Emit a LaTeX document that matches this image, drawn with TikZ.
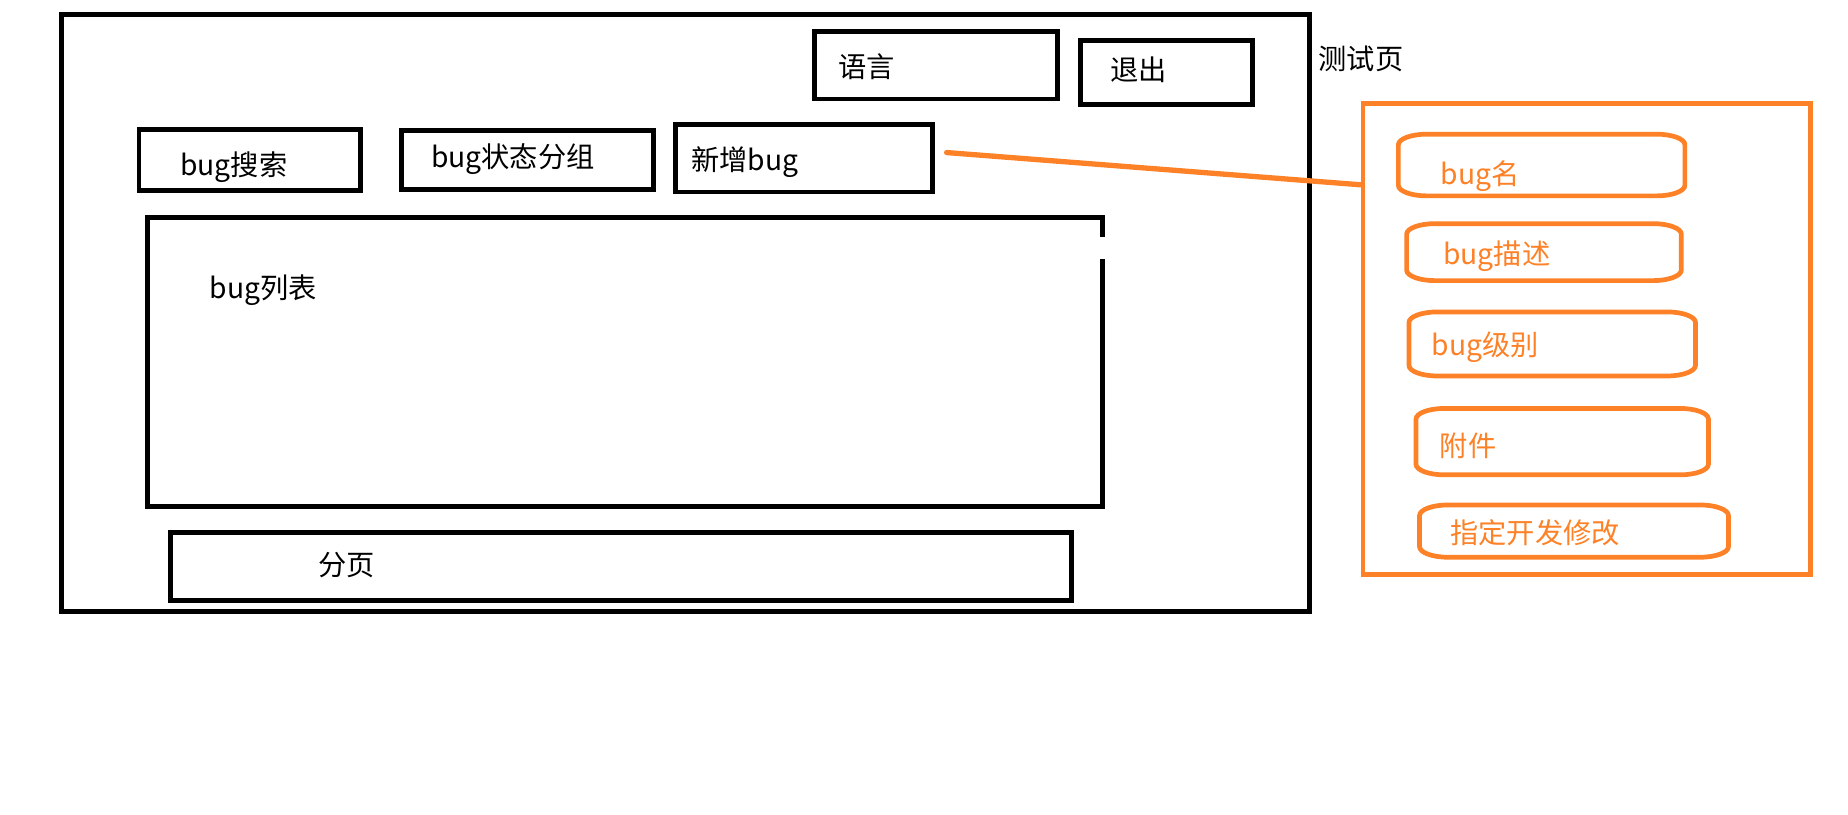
\documentclass[tikz,border=0pt]{standalone}
\usepackage{fontspec}
\newfontfamily\cjk{Noto Sans CJK SC}
\definecolor{org}{RGB}{253,129,39}
\newcommand\pillbox[1]{%
  \draw[org,line width=4pt]
    ([xshift=24pt]#1.north west) -- ([xshift=-24pt]#1.north east)
    .. controls ([xshift=-10.8pt]#1.north east) and ([yshift=-4pt]#1.north east) .. ([yshift=-9pt]#1.north east)
    -- ([yshift=9pt]#1.south east)
    .. controls ([yshift=4pt]#1.south east) and ([xshift=-10.8pt]#1.south east) .. ([xshift=-24pt]#1.south east)
    -- ([xshift=24pt]#1.south west)
    .. controls ([xshift=10.8pt]#1.south west) and ([yshift=4pt]#1.south west) .. ([yshift=9pt]#1.south west)
    -- ([yshift=-9pt]#1.north west)
    .. controls ([yshift=-4pt]#1.north west) and ([xshift=10.8pt]#1.north west) .. cycle;}
\begin{document}
\begin{tikzpicture}[x=1pt,y=-1pt,
  blk/.style={draw=black,line width=4.2pt,inner sep=0pt,anchor=north west},
  obox/.style={draw=org,line width=4pt,inner sep=0pt,anchor=north west},
  rbox/.style={inner sep=0pt,anchor=north west},
  txt/.style={font=\cjk\fontsize{24}{28}\selectfont,inner sep=0pt,anchor=base west,text=black},
  otxt/.style={txt,text=org},
  conn/.style={draw=org,line width=4.5pt,line cap=round}]
\useasboundingbox[fill=white] (0,0) rectangle (1570,691.6);
% outer frame
\node[blk,minimum width=1060pt,minimum height=507pt] (frame) at (50,10) {};
% top buttons
\node[blk,minimum width=206pt,minimum height=57pt] (lang) at (690,25) {};
\node[txt] (langt) at (712,66) {语言};
\node[blk,minimum width=146pt,minimum height=55pt] (quit) at (916,32) {};
\node[txt] (quitt) at (943,68) {退出};
\node[txt] (title) at (1120,59) {测试页};
% second row
\node[blk,minimum width=188pt,minimum height=52pt] (search) at (116,108) {};
\node[txt] (searcht) at (153,149) {bug搜索};
\node[blk,minimum width=214pt,minimum height=50pt] (group) at (339,109) {};
\node[txt] (groupt) at (366,142) {bug状态分组};
\node[blk,minimum width=218pt,minimum height=57pt] (newbug) at (572,104) {};
\node[txt] (newbugt) at (587,145) {新增bug};
% list
\node[inner sep=0pt,anchor=north west,minimum width=811pt,minimum height=245pt] (list) at (125,185) {};
\draw[black,line width=4.2pt] ([yshift=-16pt]list.north east) -- (list.north east) -- (list.north west)
  -- (list.south west) -- (list.south east) -- ([yshift=-35pt]list.north east);
\node[txt] (listt) at (178,254) {bug列表};
% pager
\node[blk,minimum width=765pt,minimum height=58pt] (pager) at (143,450) {};
\node[txt] (pagert) at (270,489) {分页};
% orange panel
\node[obox,minimum width=380pt,minimum height=400pt] (panel) at (1156,86) {};
\node[rbox,minimum width=243pt,minimum height=52pt] (f1) at (1188,114) {};
\pillbox{f1}
\node[otxt] (f1t) at (1224,157) {bug名};
\node[rbox,minimum width=233pt,minimum height=48pt] (f2) at (1195,190) {};
\pillbox{f2}
\node[otxt] (f2t) at (1226,225) {bug描述};
\node[rbox,minimum width=243pt,minimum height=54pt] (f3) at (1197,265) {};
\pillbox{f3}
\node[otxt] (f3t) at (1216,302) {bug级别};
\node[rbox,minimum width=248pt,minimum height=56pt] (f4) at (1203,347) {};
\pillbox{f4}
\node[otxt] (f4t) at (1223,388) {附件};
\node[rbox,minimum width=262pt,minimum height=44pt] (f5) at (1206,429) {};
\pillbox{f5}
\node[otxt] (f5t) at (1232,462) {指定开发修改};
% connector
\coordinate (cs) at ([xshift=10pt,yshift=5pt]newbug.east);
\coordinate (ce) at (panel.west |- 0,157);
\draw[conn] (cs) -- (ce);
\end{tikzpicture}
\end{document}
